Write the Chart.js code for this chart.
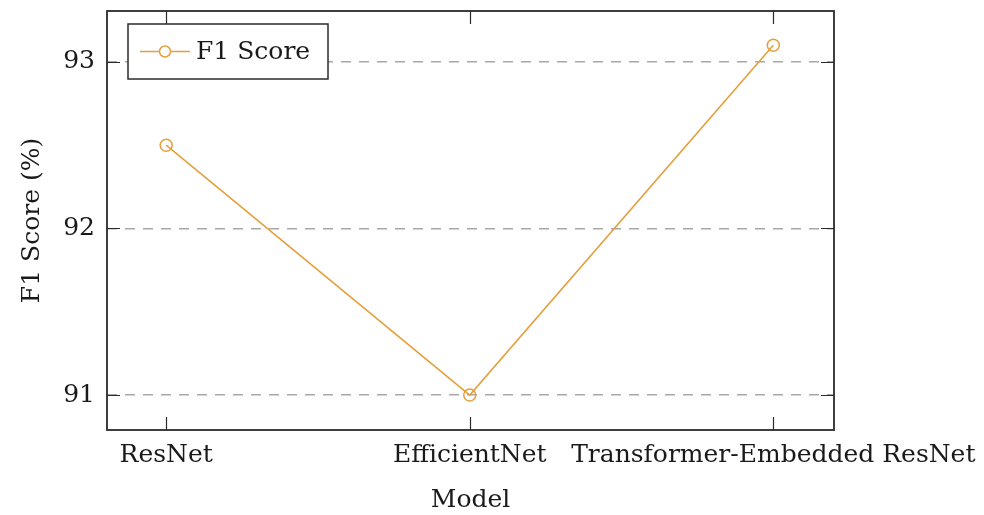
<!DOCTYPE html>
<html>
<head>
<meta charset="utf-8">
<script src="https://cdn.jsdelivr.net/npm/chart.js@4/dist/chart.umd.min.js"></script>
<style>
  html, body { margin: 0; padding: 0; background: #ffffff; }
  #wrap { width: 984px; height: 515px; }
</style>
</head>
<body>
<div id="wrap"><canvas id="c" width="984" height="515"></canvas></div>
<script>
const categories = ["ResNet", "EfficientNet", "Transformer-Embedded ResNet"];
const f1Scores = [92.5, 91.0, 93.1];
const yTicks = [91, 92, 93];
const seriesLabel = "F1 Score";
const xTitle = "Model";
const yTitle = "F1 Score (%)";

const ORANGE = "#E3A03C";
const FRAME = "#2b2b2b";
const TEXT = "#1a1a1a";
const FONT = "'DejaVu Serif', 'Liberation Serif', serif";

const framePlugin = {
  id: "framePlugin",
  afterDatasetsDraw(chart) {
    const { ctx, chartArea: a, scales } = chart;
    const tl = 13;
    ctx.save();
    ctx.strokeStyle = FRAME;
    ctx.lineWidth = 1.2;
    ctx.beginPath();
    categories.forEach((_, i) => {
      const x = Math.round(scales.x.getPixelForValue(i)) + 0.5;
      ctx.moveTo(x, a.bottom); ctx.lineTo(x, a.bottom - tl);
      ctx.moveTo(x, a.top); ctx.lineTo(x, a.top + tl);
    });
    yTicks.forEach(v => {
      const y = Math.round(scales.y.getPixelForValue(v)) + 0.5;
      ctx.moveTo(a.left, y); ctx.lineTo(a.left + tl, y);
      ctx.moveTo(a.right, y); ctx.lineTo(a.right - tl, y);
    });
    ctx.stroke();
    ctx.lineWidth = 1.8;
    ctx.strokeRect(a.left, a.top, a.right - a.left, a.bottom - a.top);

    // legend box (pgfplots style)
    const ds = chart.data.datasets[0];
    const bx = a.left + 21, by = a.top + 13, bw = 200, bh = 55;
    ctx.fillStyle = "#ffffff";
    ctx.fillRect(bx, by, bw, bh);
    ctx.lineWidth = 1.5;
    ctx.strokeStyle = FRAME;
    ctx.strokeRect(bx, by, bw, bh);
    const cy = by + bh / 2;
    ctx.strokeStyle = ds.borderColor;
    ctx.lineWidth = 1.5;
    ctx.beginPath();
    ctx.moveTo(bx + 12, cy); ctx.lineTo(bx + 62, cy);
    ctx.stroke();
    ctx.beginPath();
    ctx.arc(bx + 37, cy, 5.5, 0, Math.PI * 2);
    ctx.fillStyle = "#ffffff";
    ctx.fill();
    ctx.stroke();
    ctx.fillStyle = TEXT;
    ctx.font = "25px " + FONT;
    ctx.textBaseline = "middle";
    ctx.textAlign = "left";
    ctx.fillText(ds.label, bx + 68, cy + 1);
    ctx.restore();
  }
};

new Chart(document.getElementById("c"), {
  type: "line",
  data: {
    datasets: [{
      label: seriesLabel,
      data: f1Scores.map((v, i) => ({ x: i, y: v })),
      borderColor: ORANGE,
      backgroundColor: "#ffffff",
      borderWidth: 1.6,
      pointRadius: 6,
      pointBorderWidth: 1.5,
      pointBackgroundColor: "rgba(255,255,255,0)",
      pointBorderColor: ORANGE,
      tension: 0
    }]
  },
  options: {
    responsive: false,
    animation: false,
    layout: { padding: { left: 6, right: 150, top: 11, bottom: 0 } },
    plugins: { legend: { display: false }, tooltip: { enabled: false } },
    scales: {
      x: {
        type: "linear",
        min: -0.195,
        max: 2.2,
        afterBuildTicks: s => { s.ticks = categories.map((_, i) => ({ value: i })); },
        afterFit: s => { s.height = 85; s.paddingLeft = 0; s.paddingRight = 0; },
        grid: { display: false, drawTicks: false },
        border: { display: false },
        ticks: {
          autoSkip: false,
          maxRotation: 0,
          padding: 10,
          color: TEXT,
          font: { family: FONT, size: 25 },
          callback: v => categories[v]
        },
        title: {
          display: true,
          text: xTitle,
          color: TEXT,
          font: { family: FONT, size: 25 },
          padding: { top: 5, bottom: 0 }
        }
      },
      y: {
        min: 90.79,
        max: 93.306,
        afterBuildTicks: s => { s.ticks = yTicks.map(v => ({ value: v })); },
        afterFit: s => { s.width = 101; s.paddingTop = 0; s.paddingBottom = 0; },
        grid: {
          color: "#a8a8a8",
          lineWidth: 1.5,
          drawTicks: false
        },
        border: { display: false, dash: [10, 8] },
        ticks: {
          padding: 12,
          color: TEXT,
          font: { family: FONT, size: 25 },
          callback: v => String(v)
        },
        title: {
          display: true,
          text: yTitle,
          color: TEXT,
          font: { family: FONT, size: 25 },
          padding: { top: 11, bottom: 6 }
        }
      }
    }
  },
  plugins: [framePlugin]
});
</script>
</body>
</html>
